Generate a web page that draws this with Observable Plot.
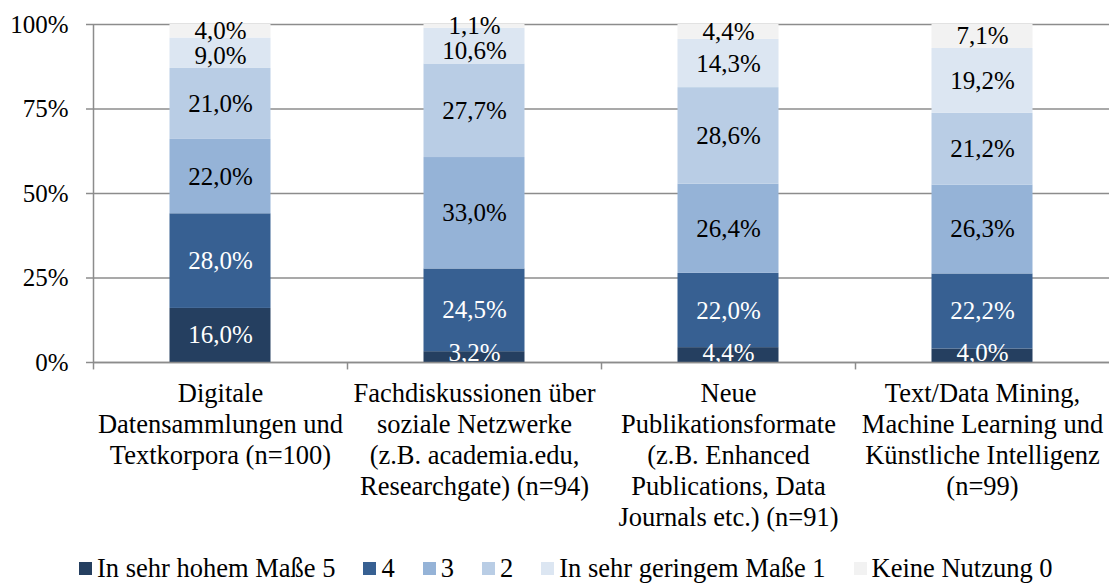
<!DOCTYPE html>
<html>
<head>
<meta charset="utf-8">
<script src="https://cdn.jsdelivr.net/npm/d3@7"></script>
<script src="https://cdn.jsdelivr.net/npm/@observablehq/plot@0.6"></script>
<style>
  html, body { margin: 0; padding: 0; background: #fff; }
  body { width: 1109px; height: 583px; overflow: hidden; font-family: "Liberation Serif", "Times New Roman", serif; }
  #legend { display: flex; align-items: center; padding-left: 79px; margin-top: 10px; font-size: 26.5px; line-height: 26px; color: #000; white-space: nowrap; }
  #legend .item { display: flex; align-items: center; margin-right: 28px; }
  #legend .sw { width: 13px; height: 13px; margin-right: 5px; display: inline-block; }
</style>
</head>
<body>
<div id="chart"></div>
<div id="legend"></div>
<script>
const categories = [
  "Digitale\nDatensammlungen und\nTextkorpora (n=100)",
  "Fachdiskussionen über\nsoziale Netzwerke\n(z.B. academia.edu,\nResearchgate) (n=94)",
  "Neue\nPublikationsformate\n(z.B. Enhanced\nPublications, Data\nJournals etc.) (n=91)",
  "Text/Data Mining,\nMachine Learning und\nKünstliche Intelligenz\n(n=99)"
];
const seriesNames = ["In sehr hohem Maße 5", "4", "3", "2", "In sehr geringem Maße 1", "Keine Nutzung 0"];
const seriesColors = ["#253f60", "#376092", "#95b3d7", "#b9cde5", "#dce6f2", "#f2f2f2"];
const values5 = [16.0, 3.2, 4.4, 4.0];
const values4 = [28.0, 24.5, 22.0, 22.2];
const values3 = [22.0, 33.0, 26.4, 26.3];
const values2 = [21.0, 27.7, 28.6, 21.2];
const values1 = [9.0, 10.6, 14.3, 19.2];
const values0 = [4.0, 1.1, 4.4, 7.1];
const yTicks = [0, 0.25, 0.5, 0.75, 1];

const seriesValues = [values5, values4, values3, values2, values1, values0];
const rows = [];
seriesNames.forEach((s, si) => {
  categories.forEach((c, ci) => {
    rows.push({cat: c, series: s, value: seriesValues[si][ci], dark: si < 2});
  });
});
const fmt = v => v.toFixed(1).replace(".", ",") + "%";

// label positions: segment midpoints (normalized), nudged apart like the original's label layout
const labelRows = [];
categories.forEach((c, ci) => {
  const vals = seriesValues.map(a => a[ci]);
  const total = d3.sum(vals);
  let cum = 0;
  const mids = vals.map(v => { const m = (cum + v / 2) / total; cum += v; return m; });
  const minGap = 0.072, minBottom = 0.028;
  for (let i = mids.length - 2; i >= 0; --i) {
    if (mids[i + 1] - mids[i] < minGap) mids[i] = mids[i + 1] - minGap;
  }
  mids.forEach((m, si) => {
    labelRows.push({cat: c, mid: Math.max(m, minBottom), label: fmt(vals[si]), dark: si < 2});
  });
});

const W = 1109, H = 545;
const step = (W - 93) / categories.length;
const grid = "#8c8c8c";
const inset = (step - 101) / 2;

const chart = Plot.plot({
  width: W,
  height: H,
  marginLeft: 93,
  marginRight: 0,
  marginTop: 24,
  marginBottom: H - 362,
  style: {fontFamily: "'Liberation Serif', 'Times New Roman', serif", fontSize: "25px", color: "#000", background: "#fff"},
  x: {domain: categories, padding: 0},
  y: {domain: [0, 1]},
  color: {domain: seriesNames, range: seriesColors},
  marks: [
    Plot.gridY(yTicks, {stroke: grid, strokeOpacity: 1, strokeWidth: 1.5}),
    Plot.barY(rows, Plot.stackY({x: "cat", y: "value", z: "series", offset: "normalize", fill: "series", insetLeft: inset, insetRight: inset})),
    Plot.text(labelRows.filter(d => d.dark), {x: "cat", y: "mid", text: "label", fill: "white", fontSize: 25, clip: true}),
    Plot.text(labelRows.filter(d => !d.dark), {x: "cat", y: "mid", text: "label", fill: "black", fontSize: 25}),
    Plot.ruleY([0], {stroke: grid, strokeWidth: 1.5}),
    Plot.ruleX([0], {x: () => categories[0], dx: -step / 2, y1: 0, y2: 1, stroke: grid, strokeWidth: 1.5}),
    Plot.ruleX(categories, {x: d => d, dx: -step / 2, y1: 0, y2: -0.022, stroke: grid, strokeWidth: 1.5, clip: false}),
    Plot.axisY(yTicks, {tickFormat: d3.format(".0%"), tickSize: 7, tickPadding: 18, stroke: grid, strokeWidth: 1.5, fontSize: 25, label: null, fill: "black"}),
    Plot.axisX({tickSize: 0, tickPadding: 17, fontSize: 26.5, lineHeight: 1.17, label: null, fill: "black"})
  ]
});
document.getElementById("chart").appendChild(chart);

const legend = document.getElementById("legend");
seriesNames.forEach((s, i) => {
  const item = document.createElement("span");
  item.className = "item";
  const sw = document.createElement("span");
  sw.className = "sw";
  sw.style.background = seriesColors[i];
  item.appendChild(sw);
  item.appendChild(document.createTextNode(s));
  legend.appendChild(item);
});
</script>
</body>
</html>
